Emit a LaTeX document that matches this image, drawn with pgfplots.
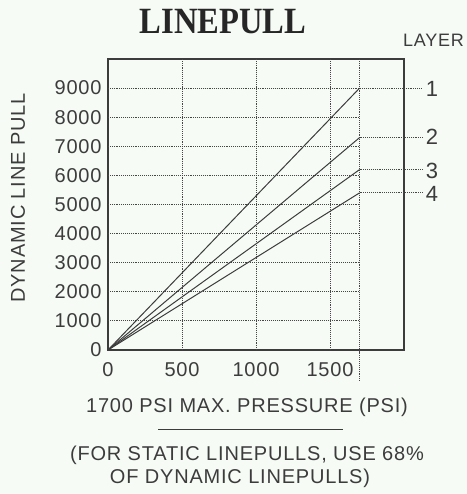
\documentclass[border=0pt]{standalone}
\usepackage{fontspec}
\usepackage{pgfplots}
\pgfplotsset{compat=1.18}
\setmainfont{Liberation Sans}
\newfontfamily\lab{Liberation Sans}[LetterSpace=4]
\newfontfamily\ttl{Liberation Serif}
\definecolor{bgc}{RGB}{246,251,246}
\definecolor{ink}{RGB}{60,60,60}
\definecolor{gridc}{RGB}{70,70,70}
\begin{document}
\begin{tikzpicture}
\path[use as bounding box, fill=bgc] (0,0) rectangle (467bp,-494bp);
\begin{axis}[
  at={(108bp,-350bp)}, anchor=south west,
  scale only axis, width=296bp, height=291bp,
  xmin=0, xmax=2000, ymin=0, ymax=10000,
  xtick={0,500,1000,1500}, ytick={0,1000,...,9000},
  axis line style={draw=ink, line width=1.2bp},
  tick style={draw=none},
  scaled ticks=false,
  /pgf/number format/1000 sep={},
  /pgf/number format/assume math mode=true,
  xticklabel style={font=\lab\fontsize{20bp}{22bp}\selectfont, text=ink, yshift=-9bp},
  yticklabel style={font=\lab\fontsize{20bp}{22bp}\selectfont, text=ink, xshift=-3bp},
  clip=false,
]
% grid
\foreach \yy in {1000,2000,...,8000} {
  \edef\tmp{\noexpand\draw[gridc, line width=0.9bp, densely dotted] (axis cs:0,\yy) -- (axis cs:1700,\yy);}
  \tmp
}
\draw[gridc, line width=0.9bp, densely dotted] (axis cs:0,9000) -- (axis cs:2115,9000);
\foreach \xx in {500,1000,1500} {
  \edef\tmp{\noexpand\draw[gridc, line width=0.9bp, densely dotted] (axis cs:\xx,0) -- (axis cs:\xx,10000);}
  \tmp
}
\draw[gridc, line width=1.1bp, densely dotted] (axis cs:1700,-1060) -- (axis cs:1700,10000);
\draw[gridc, line width=0.9bp, densely dotted] (axis cs:1700,7300) -- (axis cs:2125,7300);
\draw[gridc, line width=0.9bp, densely dotted] (axis cs:1700,6200) -- (axis cs:2125,6200);
\draw[gridc, line width=0.9bp, densely dotted] (axis cs:1700,5400) -- (axis cs:2125,5400);
% data
\addplot[ink, line width=1bp] coordinates {(0,0) (1700,9000)};
\addplot[ink, line width=1bp] coordinates {(0,0) (1700,7300)};
\addplot[ink, line width=1bp] coordinates {(0,0) (1700,6200)};
\addplot[ink, line width=1bp] coordinates {(0,0) (1700,5400)};
\end{axis}
% texts
\node[font=\ttl\bfseries\fontsize{37bp}{39bp}\selectfont, text=black!85, xscale=0.88] at (223bp,-22bp) {LINEPULL};
\node[font=\lab\fontsize{18bp}{20bp}\selectfont, text=ink, anchor=west, inner sep=0pt] at (403bp,-40bp) {LAYER};
\foreach \t/\yy in {1/-89, 2/-137, 3/-171, 4/-194} {
  \node[font=\lab\fontsize{22bp}{24bp}\selectfont, text=ink, inner sep=0pt] at (432bp,\yy bp) {\t};
}
\node[font=\lab\fontsize{20bp}{22bp}\selectfont, text=ink, rotate=90] at (18bp,-198bp) {DYNAMIC LINE PULL};
\node[font=\lab\fontsize{20bp}{22bp}\selectfont, text=ink] at (247bp,-407bp) {1700 PSI MAX. PRESSURE (PSI)};
\draw[ink, line width=1bp] (158bp,-429bp) -- (343bp,-429bp);
\node[font=\lab\fontsize{20bp}{22bp}\selectfont, text=ink] at (247bp,-455bp) {(FOR STATIC LINEPULLS, USE 68\%};
\node[font=\lab\fontsize{20bp}{22bp}\selectfont, text=ink] at (240bp,-478bp) {OF DYNAMIC LINEPULLS)};
\end{tikzpicture}
\end{document}
